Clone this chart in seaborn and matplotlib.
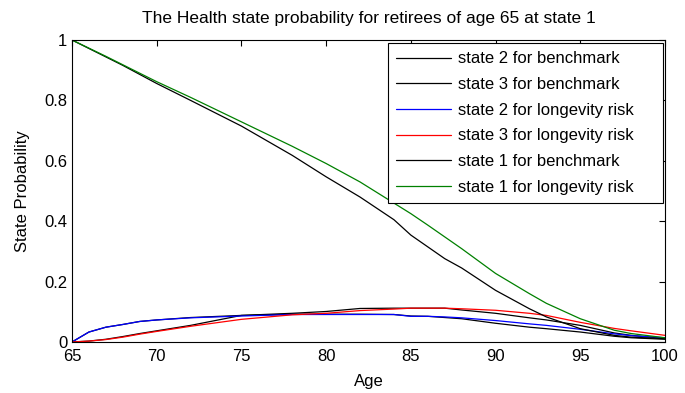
import matplotlib
matplotlib.use("Agg")
import matplotlib.pyplot as plt
import seaborn as sns
import pandas as pd

ages = [65, 66, 67, 68, 69, 70, 72, 75, 78, 80, 82, 84, 85, 86, 87, 88, 90, 92, 93, 95, 97, 98, 100]

s1_bench = [1.0, 0.972, 0.944, 0.916, 0.886, 0.856, 0.80, 0.715, 0.618, 0.547, 0.48, 0.405, 0.354, 0.315, 0.276, 0.245, 0.171, 0.11, 0.083, 0.044, 0.022, 0.016, 0.011]
s1_long = [1.0, 0.973, 0.946, 0.918, 0.89, 0.862, 0.81, 0.729, 0.648, 0.591, 0.53, 0.46, 0.425, 0.387, 0.348, 0.309, 0.227, 0.16, 0.128, 0.077, 0.039, 0.028, 0.014]
s2_bench = [0.0, 0.033, 0.049, 0.058, 0.068, 0.073, 0.081, 0.088, 0.092, 0.092, 0.092, 0.091, 0.086, 0.085, 0.081, 0.077, 0.062, 0.049, 0.044, 0.033, 0.019, 0.014, 0.009]
s2_long = [0.0, 0.033, 0.049, 0.058, 0.068, 0.073, 0.080, 0.086, 0.091, 0.091, 0.091, 0.091, 0.085, 0.085, 0.083, 0.080, 0.071, 0.060, 0.055, 0.042, 0.027, 0.021, 0.014]
s3_bench = [0.0, 0.003, 0.009, 0.018, 0.028, 0.037, 0.055, 0.088, 0.095, 0.101, 0.111, 0.112, 0.112, 0.112, 0.112, 0.106, 0.095, 0.080, 0.073, 0.055, 0.030, 0.022, 0.012]
s3_long = [0.0, 0.003, 0.008, 0.016, 0.026, 0.035, 0.052, 0.075, 0.090, 0.095, 0.104, 0.109, 0.112, 0.112, 0.112, 0.110, 0.105, 0.095, 0.088, 0.065, 0.045, 0.037, 0.022]

labels = ["state 2 for benchmark", "state 3 for benchmark", "state 2 for longevity risk",
          "state 3 for longevity risk", "state 1 for benchmark", "state 1 for longevity risk"]
series = [s2_bench, s3_bench, s2_long, s3_long, s1_bench, s1_long]
colors = ["#000000", "#000000", "#0000ff", "#ff0000", "#000000", "#008000"]

rows = []
for lab, vals in zip(labels, series):
    for a, v in zip(ages, vals):
        rows.append({"Age": a, "State Probability": v, "series": lab})
df = pd.DataFrame(rows)

sns.set_style("white")
plt.rcParams['font.family'] = ['Liberation Sans', 'DejaVu Sans']
plt.rcParams['text.color'] = 'black'
plt.rcParams['axes.labelcolor'] = 'black'

fig = plt.figure(figsize=(6.85, 3.93), dpi=100)
ax = fig.add_axes([0.1051, 0.1298, 0.8657, 0.7684])

sns.lineplot(data=df, x="Age", y="State Probability", hue="series", hue_order=labels,
             palette=dict(zip(labels, colors)), linewidth=0.9, ax=ax, estimator=None, sort=False)

ax.set_xlim(65, 100)
ax.set_ylim(0, 1)
ax.set_xticks([65, 70, 75, 80, 85, 90, 95, 100])
ax.set_yticks([0, 0.2, 0.4, 0.6, 0.8, 1])
ax.set_yticklabels(["0", "0.2", "0.4", "0.6", "0.8", "1"])
ax.tick_params(direction="in", length=4, width=0.8, top=True, right=True, labelsize=12,
               color="black", labelcolor="black", pad=3.5)
ax.tick_params(axis="x", pad=5)
for sp in ax.spines.values():
    sp.set_visible(True)
    sp.set_color("black")
    sp.set_linewidth(0.8)
ax.set_xlabel("Age", fontsize=12, labelpad=7, color="black")
ax.set_ylabel("State Probability", fontsize=12, labelpad=10, color="black")
ax.set_title("The Health state probability for retirees of age 65 at state 1", fontsize=12.5, pad=12, color="black")

leg = ax.legend(loc="upper left", bbox_to_anchor=(0.533, 0.0, 0.4636, 0.990), mode="expand",
                fontsize=12, handlelength=3.3, labelspacing=0.64,
                frameon=True, fancybox=False, edgecolor="black", borderaxespad=0.0,
                borderpad=0.5, handletextpad=0.4)
leg.get_frame().set_linewidth(0.8)
leg.get_frame().set_facecolor("white")
leg.get_frame().set_alpha(1)
for t in leg.get_texts():
    t.set_color("black")

fig.savefig("out.png", dpi=100)
